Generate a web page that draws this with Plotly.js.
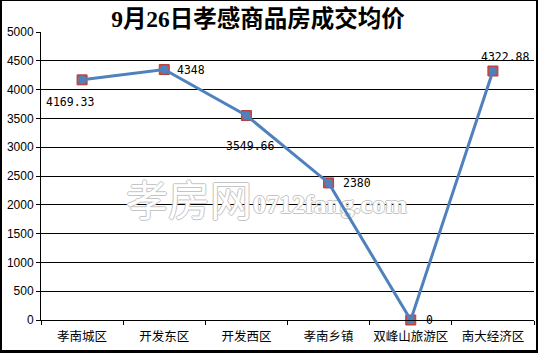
<!DOCTYPE html>
<html>
<head>
<meta charset="utf-8">
<script src="https://cdn.plot.ly/plotly-3.0.1.min.js"></script>
<style>
  html, body { margin: 0; padding: 0; background: #fff; }
  #wrap { position: relative; width: 538px; height: 353px; }
  #chart { position: absolute; left: 0; top: 0; width: 538px; height: 353px; }
  #frame { position: absolute; left: 0; top: 0; width: 538px; height: 353px; box-sizing: border-box;
           border-left: 2px solid #000; border-right: 2px solid #000; border-bottom: 3px solid #000; border-top: 1px solid #000;
           pointer-events: none; }
</style>
</head>
<body>
<div id="wrap"><div id="chart"></div><div id="frame"></div></div>
<script>
// ---- data ----
const chartTitle = "9月26日孝感商品房成交均价";
const categories = ["孝南城区", "开发东区", "开发西区", "孝南乡镇", "双峰山旅游区", "南大经济区"];
const avgPrice = [4169.33, 4348, 3549.66, 2380, 0, 4322.88];
const yTickValues = [0, 500, 1000, 1500, 2000, 2500, 3000, 3500, 4000, 4500, 5000];
const watermarkCN = "孝房网";
const watermarkEN = "0712fang.com";

// ---- label placement (style only) ----
const labelPlacement = [
  {xanchor: "center", xshift: -12, yshift: -22},
  {xanchor: "left", xshift: 11, yshift: 0},
  {xanchor: "center", xshift: 4, yshift: -30},
  {xanchor: "left", xshift: 12, yshift: 0},
  {xanchor: "left", xshift: 13, yshift: 0},
  {xanchor: "center", xshift: 13, yshift: 14}
];

const squares = {
  x: categories, y: avgPrice, type: "scatter", mode: "markers",
  marker: {symbol: "square", size: 10, color: "#C0504D", line: {width: 1, color: "#B0403D"}},
  hoverinfo: "skip", showlegend: false, cliponaxis: false
};
const line = {
  x: categories, y: avgPrice, type: "scatter", mode: "lines+markers",
  line: {color: "#4F81BD", width: 3},
  marker: {symbol: "circle", size: 8, color: "#4F81BD"},
  showlegend: false, cliponaxis: false
};

const labelAnnotations = avgPrice.map((v, i) => ({
  x: categories[i], y: v, xref: "x", yref: "y",
  text: String(v), showarrow: false,
  xanchor: labelPlacement[i].xanchor, yanchor: "middle",
  xshift: labelPlacement[i].xshift, yshift: labelPlacement[i].yshift,
  font: {family: "DejaVu Sans Mono, monospace", size: 11.5, color: "#000"}
}));

const wmShadow = "1px 0 0 #c4c4c4, -1px 0 0 #c4c4c4, 0 1px 0 #c4c4c4, 0 -1px 0 #c4c4c4";
const watermarks = [
  {xref: "paper", yref: "paper", x: 0.301, y: 0.425, xanchor: "center", yanchor: "middle",
   text: watermarkCN, showarrow: false,
   font: {family: "Noto Sans CJK SC", size: 42, color: "#ffffff", shadow: wmShadow}},
  {xref: "paper", yref: "paper", x: 0.426, y: 0.40, xanchor: "left", yanchor: "middle",
   text: watermarkEN, showarrow: false,
   font: {family: "Liberation Serif", size: 26, weight: "bold", color: "#ffffff", shadow: wmShadow}}
];

const layout = {
  width: 538, height: 353,
  margin: {l: 41, r: 4, t: 32, b: 33},
  paper_bgcolor: "#fff", plot_bgcolor: "#fff",
  title: {
    text: chartTitle, xref: "container", yref: "container",
    x: 258 / 538, y: 1 - 19 / 353, xanchor: "center", yanchor: "middle",
    font: {family: "Liberation Serif, Noto Sans CJK SC", size: 23.5, weight: "bold", color: "#000"}
  },
  xaxis: {
    type: "category", range: [-0.5, 5.5], fixedrange: true,
    showgrid: false, showline: true, linecolor: "#000", linewidth: 1,
    ticks: "outside", tickson: "boundaries", ticklen: 4, tickcolor: "#000",
    tickangle: 0, ticklabelstandoff: 5,
    tickfont: {family: "Noto Sans CJK SC", size: 12.5, color: "#000"},
    zeroline: false
  },
  yaxis: {
    range: [0, 5000], tickvals: yTickValues, fixedrange: true,
    showgrid: true, gridcolor: "#000", gridwidth: 1,
    showline: true, linecolor: "#000", linewidth: 1,
    ticks: "outside", ticklen: 4, tickcolor: "#000",
    tickfont: {family: "Liberation Sans, Arial", size: 12, color: "#000"},
    zeroline: false
  },
  annotations: watermarks.concat(labelAnnotations),
  showlegend: false
};

Plotly.newPlot("chart", [squares, line], layout, {displayModeBar: false, staticPlot: true}).then(gd => {
  try {
    const paper = gd.querySelector("svg.main-svg");
    const anns = gd.querySelectorAll(".infolayer .annotation");
    const sub = paper.querySelector(".cartesianlayer .subplot.xy");
    const plotG = sub ? sub.querySelector(".overplot") : null;
    if (plotG) { [anns[0], anns[1]].forEach(a => { if (a) sub.insertBefore(a, plotG); }); }
  } catch (e) {}
});
</script>
</body>
</html>
